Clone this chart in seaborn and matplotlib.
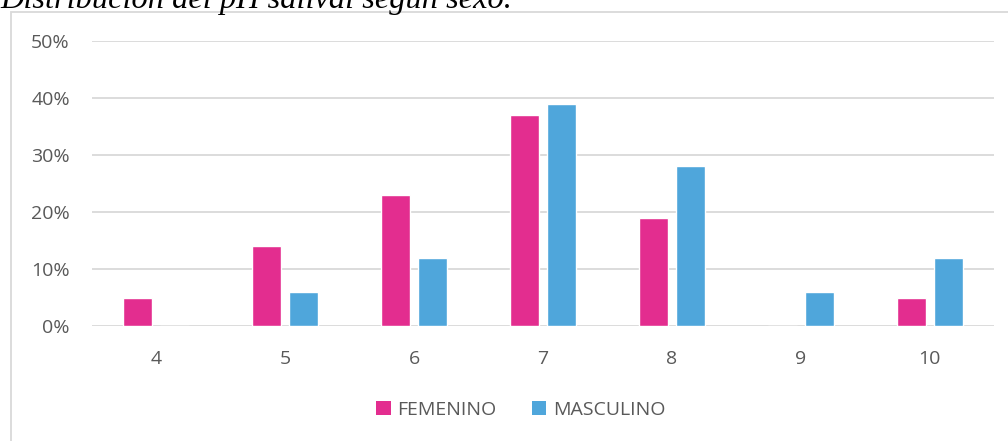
import matplotlib
matplotlib.use("Agg")
import matplotlib.pyplot as plt
import seaborn as sns
import pandas as pd
from matplotlib.patches import Rectangle, Patch

categories = ["4", "5", "6", "7", "8", "9", "10"]
femenino = [5, 14, 23, 37, 19, 0, 5]
masculino = [0, 6, 12, 39, 28, 6, 12]
series_names = ["FEMENINO", "MASCULINO"]
colors = ["#E32D8F", "#4FA6DB"]
y_ticks = [0, 10, 20, 30, 40, 50]
title = "Distribución del pH salival según sexo."

df = pd.DataFrame({
    "pH": categories * 2,
    "pct": [v / 100 for v in femenino] + [v / 100 for v in masculino],
    "sexo": [series_names[0]] * len(categories) + [series_names[1]] * len(categories),
})

sns.set_style("white")
plt.rcParams["font.family"] = ["Open Sans", "DejaVu Sans"]

fig = plt.figure(figsize=(10.08, 4.41), dpi=100)
W, H = 1008, 441
ax = fig.add_axes([92 / W, 1 - 326 / H, (994 - 92) / W, (326 - 41) / H])

sns.barplot(data=df, x="pH", y="pct", hue="sexo", order=categories,
            hue_order=series_names, palette=colors, width=0.573, gap=0.215,
            ax=ax, legend=False, saturation=1, errorbar=None)

ax.set_xlim(-0.5, len(categories) - 0.5)
ax.set_ylim(0, 0.5)
ax.set_yticks([t / 100 for t in y_ticks])
ax.set_yticklabels([f"{t}%" for t in y_ticks])
ax.grid(axis="y", color="#D9D9D9", linewidth=1.3)
ax.set_axisbelow(True)
for s in ax.spines.values():
    s.set_visible(False)
ax.tick_params(axis="both", length=0, colors="#595959", labelsize=14)
ax.tick_params(axis="y", pad=16)
ax.tick_params(axis="x", pad=17)
ax.set_xlabel("")
ax.set_ylabel("")

# chart frame
fig.patches.append(Rectangle((11 / W, -0.05), 1.2, 1 - 12 / H + 0.05,
                             transform=fig.transFigure, fill=False,
                             edgecolor="#D9D9D9", linewidth=1.3))

handles = [Patch(facecolor=c, edgecolor="none") for c in colors]
fig.legend(handles, series_names, loc="center", bbox_to_anchor=(521 / W, 1 - 410 / H),
           ncol=2, frameon=False, fontsize=14, handlelength=0.75, handleheight=0.75,
           handletextpad=0.35, columnspacing=1.8, labelcolor="#595959")

fig.text(0, 1 - 8 / H, title, family="Liberation Serif", style="italic",
         fontsize=23.3, va="baseline", ha="left", color="black")

fig.savefig("out.png", dpi=100)
